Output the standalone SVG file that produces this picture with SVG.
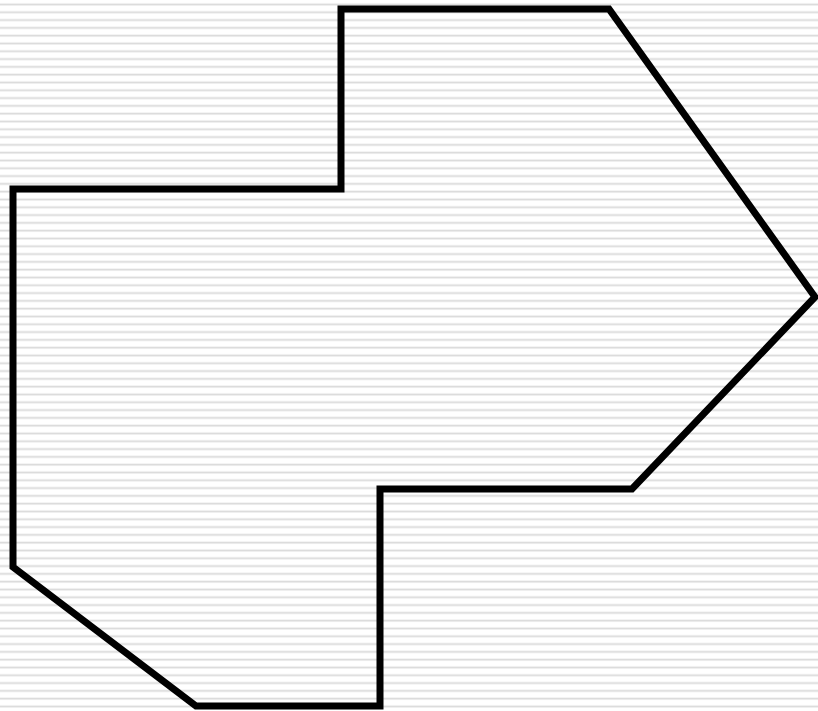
<svg xmlns="http://www.w3.org/2000/svg" width="818" height="711" viewBox="0 0 818 711">
  <defs>
    <pattern id="stripes" patternUnits="userSpaceOnUse" x="0" y="0" width="8" height="7.8">
      <rect x="0" y="0" width="8" height="7.8" fill="#ffffff"/>
      <rect x="0" y="3.6" width="8" height="1.2" fill="#d6d6d6"/>
      <rect x="0" y="4.8" width="8" height="1" fill="#ececec"/>
    </pattern>
    <style>
      .outline { fill: none; stroke: #000000; stroke-width: 7; stroke-linejoin: miter; }
    </style>
  </defs>
  <rect id="background" x="0" y="0" width="818" height="711" fill="url(#stripes)"/>
  <g id="shape">
    <polygon class="outline" points="13,189 341,189 341,9 609,9 815,297 632,489 380,489 380,706 196,706 13,567"/>
  </g>
</svg>
